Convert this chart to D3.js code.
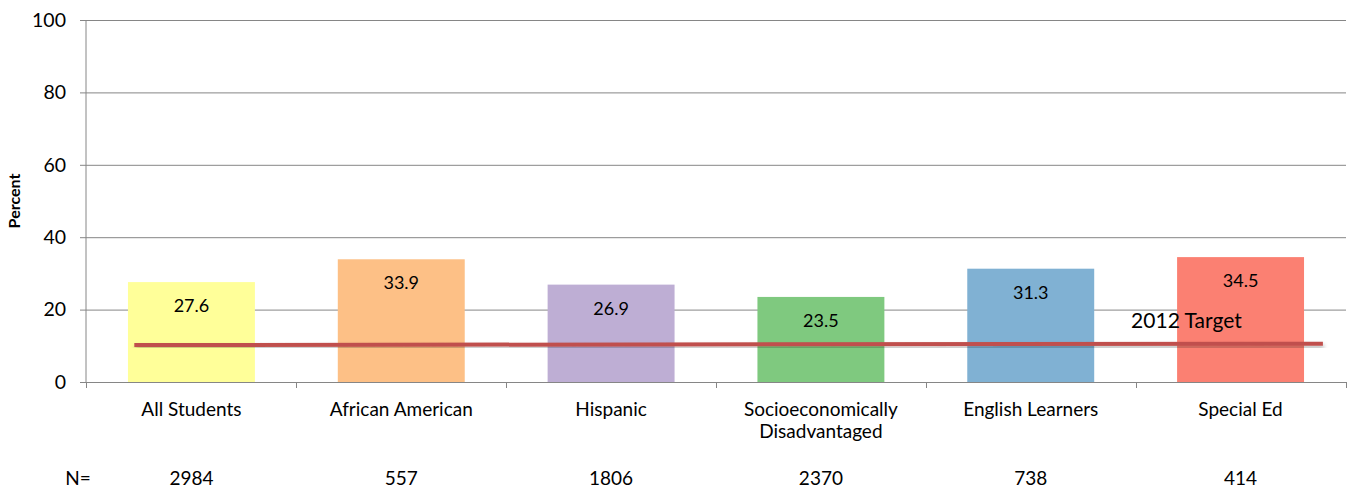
<!DOCTYPE html>
<html>
<head>
<meta charset="utf-8">
<script src="https://cdn.jsdelivr.net/npm/d3@7"></script>
<style>
  body { margin: 0; background: #fff; }
  svg { font-family: Lato, "Open Sans", sans-serif; }
</style>
</head>
<body>
<svg id="chart" width="1355" height="494"></svg>
<script>
const categories = ["All Students", "African American", "Hispanic", "Socioeconomically\nDisadvantaged", "English Learners", "Special Ed"]
const percents = [27.6, 33.9, 26.9, 23.5, 31.3, 34.5]
const counts = [2984, 557, 1806, 2370, 738, 414]
const colors = ["#ffff99", "#fdc086", "#beaed4", "#7fc97f", "#80b1d3", "#fb8072"]
const yTicks = [0, 20, 40, 60, 80, 100]
// target line endpoints: [category position, value]
const target = [[0.23, 10.2], [5.89, 10.6]]

const margin = { top: 20, left: 86, right: 9, bottom: 112 }
const width = 1355 - margin.left - margin.right
const height = 494 - margin.top - margin.bottom

const svg = d3.select("#chart")
  .append("g")
    .attr("transform", "translate(" + margin.left + "," + margin.top + ")")

const y = d3.scaleLinear().domain([0, 100]).range([height, 0])
const x = d3.scaleBand().domain(d3.range(categories.length)).range([0, width])
  .paddingInner(0.395).paddingOuter(0.2)
const xPos = d3.scaleLinear().domain([0, categories.length]).range([0, width])

// gridlines + y axis
svg.append("g")
  .call(d3.axisLeft(y).tickValues(yTicks).tickSize(-width).tickPadding(20))
  .call(g => g.select(".domain").remove())
  .call(g => g.selectAll(".tick line").attr("stroke", "#868686").attr("x1", -6))
  .call(g => g.selectAll(".tick text").attr("font-size", 19.5).attr("fill", "#000").attr("font-family", "Lato"))

svg.append("line")
  .attr("x1", 0).attr("x2", 0).attr("y1", 0).attr("y2", height)
  .attr("stroke", "#868686")

// bars
svg.selectAll("rect.bar")
  .data(percents)
  .enter()
  .append("rect")
    .attr("class", "bar")
    .attr("x", (d, i) => x(i))
    .attr("y", d => y(d))
    .attr("width", x.bandwidth())
    .attr("height", d => height - y(d))
    .attr("fill", (d, i) => colors[i])

svg.selectAll("text.val")
  .data(percents)
  .enter()
  .append("text")
    .attr("class", "val")
    .attr("x", (d, i) => x(i) + x.bandwidth() / 2)
    .attr("y", d => y(d) + 30)
    .attr("text-anchor", "middle")
    .attr("font-size", 18)
    .text(d => d.toFixed(1))

// x axis
svg.append("g")
  .attr("transform", "translate(0," + height + ")")
  .call(d3.axisBottom(xPos).tickValues(d3.range(categories.length + 1)).tickSize(6).tickFormat(""))
  .call(g => g.selectAll("line, path").attr("stroke", "#868686"))

// category labels
const cat = svg.selectAll("text.cat")
  .data(categories)
  .enter()
  .append("text")
    .attr("class", "cat")
    .attr("x", (d, i) => x(i) + x.bandwidth() / 2)
    .attr("y", height + 34)
    .attr("text-anchor", "middle")
    .attr("font-size", 19)
cat.selectAll("tspan")
  .data(d => d.split("\n"))
  .enter()
  .append("tspan")
    .attr("x", function() { return this.parentNode.getAttribute("x") })
    .attr("dy", (d, i) => i ? "1.15em" : 0)
    .text(d => d)

// N row
svg.selectAll("text.n")
  .data(counts)
  .enter()
  .append("text")
    .attr("class", "n")
    .attr("x", (d, i) => x(i) + x.bandwidth() / 2)
    .attr("y", height + 103)
    .attr("text-anchor", "middle")
    .attr("font-size", 19)
    .text(d => d)
svg.append("text")
  .attr("x", -8).attr("y", height + 103)
  .attr("text-anchor", "middle")
  .attr("font-size", 19)
  .text("N=")

// y title
svg.append("text")
  .attr("transform", "translate(" + (-66) + "," + (height / 2) + ") rotate(-90)")
  .attr("text-anchor", "middle")
  .attr("font-size", 16)
  .attr("font-weight", "bold")
  .text("Percent")

// target line
const defs = d3.select("#chart").append("defs")
const f = defs.append("filter").attr("id", "shadow").attr("x", "-5%").attr("y", "-200%").attr("width", "110%").attr("height", "500%")
f.append("feDropShadow").attr("dx", 1).attr("dy", 3).attr("stdDeviation", 2).attr("flood-color", "#000").attr("flood-opacity", 0.3)

svg.append("path")
  .datum(target)
  .attr("d", d3.line().x(d => xPos(d[0])).y(d => y(d[1])))
  .attr("stroke", "#c0504d")
  .attr("stroke-width", 4)
  .attr("fill", "none")
  .attr("filter", "url(#shadow)")

svg.append("text")
  .attr("x", xPos(5.24))
  .attr("y", y(14.8))
  .attr("text-anchor", "middle")
  .attr("font-size", 21)
  .text("2012 Target")
</script>
</body>
</html>
